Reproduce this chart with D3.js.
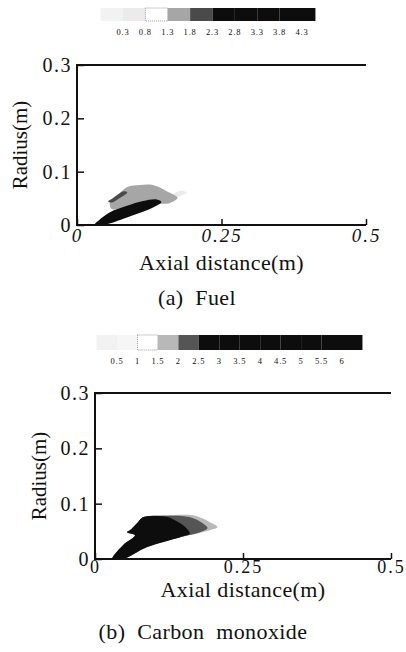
<!DOCTYPE html>
<html>
<head>
<meta charset="utf-8">
<script src="https://cdn.jsdelivr.net/npm/d3@7"></script>
<style>
body { margin: 0; background: #fff; }
text { font-family: "Liberation Serif", "DejaVu Serif", serif; fill: #111; }
</style>
</head>
<body>
<script>
// axis values (m)
var xTicks = [0, 0.25, 0.5];
var rTicks = [0, 0.1, 0.2, 0.3];

// legend levels
var fuelLabels = [0.3, 0.8, 1.3, 1.8, 2.3, 2.8, 3.3, 3.8, 4.3];
var fuelBreaks = [-0.2, 0.3, 0.8, 1.3, 1.8, 2.3, 2.8, 3.3, 3.8, 4.3, 4.6];
var coLabels = [0.5, 1, 1.5, 2, 2.5, 3, 3.5, 4, 4.5, 5, 5.5, 6];
var coBreaks = [0, 0.5, 1, 1.5, 2, 2.5, 3, 3.5, 4, 4.5, 5, 5.5, 6, 6.5];

// contour outlines, [axial, radius] in m
var fuelContours = [
  {level: 0.3, pts: [[0.165,0.05],[0.18,0.055],[0.19,0.06],[0.182,0.064],[0.168,0.059]]},
  {level: 1.3, pts: [[0.057,0.043],[0.074,0.06],[0.087,0.0712],[0.109,0.075],[0.131,0.075],
                     [0.155,0.0635],[0.174,0.051],[0.16,0.041],[0.145,0.04],[0.12,0.043],[0.09,0.035],[0.06,0.03]]},
  {level: 1.8, pts: [[0.054,0.044],[0.062,0.05],[0.08,0.063],[0.087,0.061],[0.07,0.048],[0.06,0.042]]},
  {level: 2.8, pts: [[0.03,0],[0.046,0],[0.0865,0.014],[0.1315,0.0327],[0.146,0.043],[0.138,0.048],
                     [0.1142,0.045],[0.0865,0.036],[0.0571,0.024],[0.039,0.01]]}
];
var coContours = [
  {level: 1.5, pts: [[0.029,0],[0.0473,0],[0.0878,0.021],[0.1436,0.039],[0.18,0.048],[0.2,0.054],[0.207,0.058],
                     [0.195,0.066],[0.18,0.074],[0.1655,0.079],[0.1216,0.079],[0.081,0.0754],[0.0726,0.0665],
                     [0.0591,0.052],[0.054,0.0485],[0.0676,0.043],[0.0473,0.025],[0.0304,0.004]]},
  {level: 2, pts: [[0.03,0],[0.0473,0],[0.0878,0.0216],[0.1436,0.0395],[0.1774,0.0485],[0.19,0.056],[0.18,0.066],
                   [0.165,0.074],[0.14,0.078],[0.122,0.078],[0.081,0.0754],[0.0726,0.0665],[0.0591,0.052],
                   [0.054,0.0485],[0.0676,0.043],[0.0473,0.025],[0.0304,0.004]]},
  {level: 3, pts: [[0.0287,0],[0.0473,0],[0.0878,0.0216],[0.1436,0.0395],[0.16,0.046],[0.15,0.06],[0.135,0.07],
                   [0.122,0.076],[0.081,0.0754],[0.0726,0.0665],[0.0591,0.052],[0.054,0.0485],[0.0676,0.043],
                   [0.0473,0.025],[0.0304,0.004]]}
];

var fuelShade = d3.scaleThreshold()
  .domain([0.3, 0.8, 1.3, 1.8, 2.3])
  .range(["#f2f2f2", "#ebebeb", "#ffffff", "#a6a6a6", "#4a4a4a", "#0d0d0d"]);
var coShade = d3.scaleThreshold()
  .domain([0.5, 1, 1.5, 2, 2.5])
  .range(["#f2f2f2", "#f6f6f6", "#ffffff", "#b8b8b8", "#555555", "#0d0d0d"]);

var svg = d3.select("body").append("svg")
  .attr("width", 406)
  .attr("height", 652);

function drawBar(labels, breaks, shade, lo, hi, x0, x1, y0, y1) {
  var bx = d3.scaleLinear().domain([lo, hi]).range([x0, x1]);
  var g = svg.append("g");
  g.selectAll("rect").data(d3.pairs(breaks)).enter().append("rect")
    .attr("x", function(d) { return bx(d[0]); })
    .attr("y", y0)
    .attr("width", function(d) { return bx(d[1]) - bx(d[0]); })
    .attr("height", y1 - y0)
    .attr("fill", function(d) { return shade(d[0]); })
    .attr("stroke", function(d) { return shade(d[0]) == "#ffffff" ? "#9a9a9a" : "none"; })
    .attr("stroke-dasharray", "1,1");
  g.selectAll("text").data(labels).enter().append("text")
    .attr("x", function(d) { return bx(d); })
    .attr("y", y1 + 14)
    .attr("text-anchor", "middle")
    .attr("font-size", 8.5)
    .attr("letter-spacing", 0.8)
    .text(function(d) { return d; });
}

function drawPanel(p) {
  var x = d3.scaleLinear().domain([0, 0.5]).range([p.left, p.right]);
  var y = d3.scaleLinear().domain([0, 0.3]).range([p.bottom, p.top]);
  var g = svg.append("g");

  g.append("clipPath").attr("id", p.id)
    .append("rect")
    .attr("x", p.left).attr("y", p.top)
    .attr("width", p.right - p.left).attr("height", p.bottom - p.top);

  var line = d3.line()
    .x(function(d) { return x(d[0]); })
    .y(function(d) { return y(d[1]); })
    .curve(d3.curveCatmullRomClosed.alpha(0.5));

  g.append("g").attr("clip-path", "url(#" + p.id + ")")
    .selectAll("path").data(p.contours).enter().append("path")
    .attr("d", function(d) { return line(d.pts); })
    .attr("fill", function(d) { return p.shade(d.level); });

  // frame: left, top, bottom
  var frame = g.append("g").attr("stroke", "#111").attr("stroke-width", 2).attr("fill", "none");
  frame.append("path").attr("d", "M" + p.right + "," + p.top + "H" + p.left + "V" + p.bottom + "H" + p.right);

  var ax = g.append("g").attr("transform", "translate(0," + p.bottom + ")")
    .call(d3.axisBottom(x).tickValues(xTicks).tickSize(-6).tickPadding(p.xPad)
      .tickFormat(function(d) { return d; }));
  ax.select(".domain").remove();
  ax.selectAll("line").attr("stroke", "#111").attr("stroke-width", 1.5);
  ax.selectAll("text").attr("font-size", p.xFont).attr("fill", "#111")
    .attr("letter-spacing", 2)
    .attr("font-family", "Liberation Serif, serif")
    .attr("font-style", p.italicX ? "italic" : "normal");

  var ay = g.append("g").attr("transform", "translate(" + p.left + ",0)")
    .call(d3.axisLeft(y).tickValues(rTicks).tickSize(-7).tickPadding(5)
      .tickFormat(function(d) { return d; }));
  ay.select(".domain").remove();
  ay.selectAll("line").attr("stroke", "#111").attr("stroke-width", 1.5);
  ay.selectAll("text").attr("font-size", 20).attr("fill", "#111")
    .attr("letter-spacing", 1.5)
    .attr("font-family", "Liberation Serif, serif");

  g.append("text")
    .attr("x", (p.left + p.right) / 2)
    .attr("y", p.bottom + p.titleDy)
    .attr("text-anchor", "middle")
    .attr("font-size", 22)
    .attr("letter-spacing", 0.4)
    .text("Axial distance(m)");

  g.append("text")
    .attr("transform", "translate(" + p.rx + "," + (p.top + p.bottom) / 2 + ") rotate(-90)")
    .attr("text-anchor", "middle")
    .attr("dominant-baseline", "central")
    .attr("font-size", 21)
    .text("Radius(m)");

  g.append("text")
    .attr("x", p.capX)
    .attr("y", p.capY)
    .attr("text-anchor", "middle")
    .attr("font-size", 22)
    .attr("letter-spacing", 0.4)
    .style("white-space", "pre")
    .text(p.caption);
}

drawBar(fuelLabels, fuelBreaks, fuelShade, 0.3, 4.3, 123, 302, 8, 21);
drawBar(coLabels, coBreaks, coShade, 0.5, 6, 117, 342, 335, 350);

drawPanel({id: "clipA", left: 77, right: 366, top: 65, bottom: 225, contours: fuelContours,
  shade: fuelShade, xPad: 4, xFont: 19, italicX: true, titleDy: 45, rx: 20, capX: 197, capY: 305,
  caption: "(a)  Fuel"});
drawPanel({id: "clipB", left: 95, right: 391, top: 393, bottom: 559, contours: coContours,
  shade: coShade, xPad: 1, xFont: 18, italicX: false, titleDy: 38, rx: 39, capX: 203, capY: 639,
  caption: "(b)  Carbon  monoxide"});
</script>
</body>
</html>
